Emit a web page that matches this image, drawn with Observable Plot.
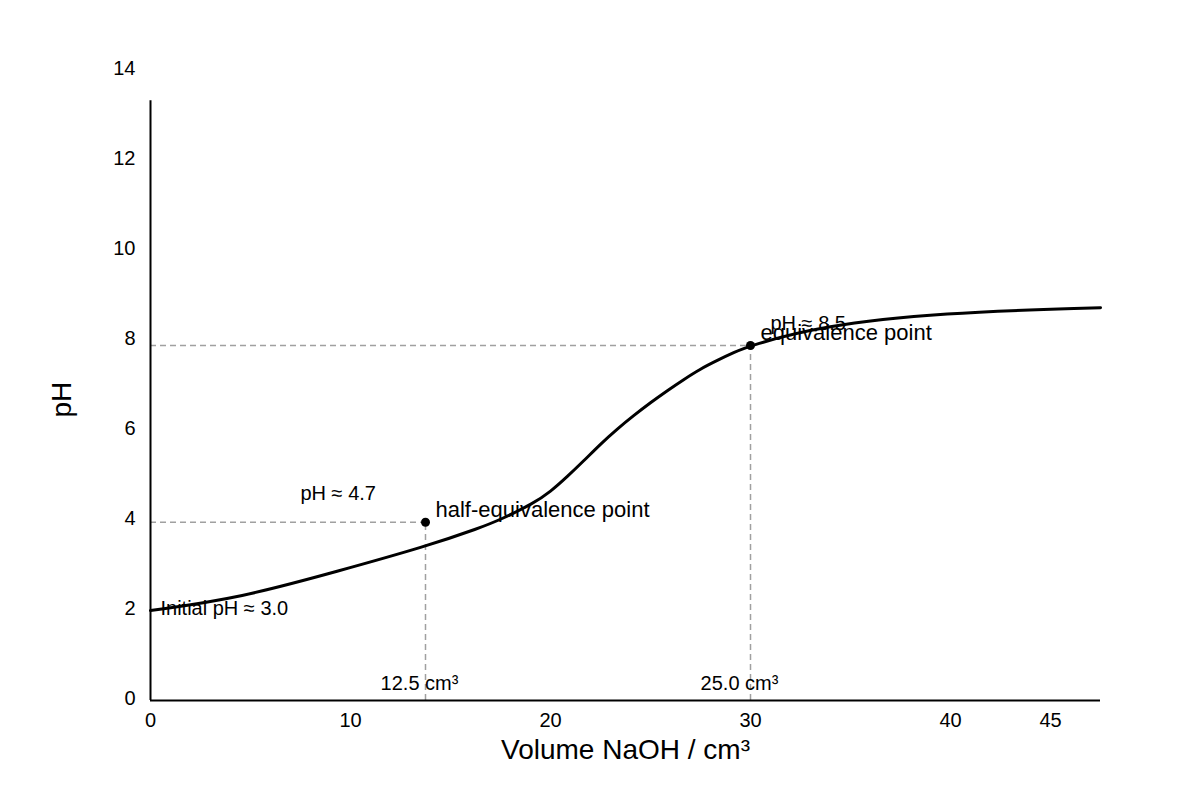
<!DOCTYPE html>
<html>
<head>
<meta charset="utf-8">
<script src="https://cdn.jsdelivr.net/npm/d3@7"></script>
<script src="https://cdn.jsdelivr.net/npm/@observablehq/plot@0.6"></script>
<style>
  html, body { margin: 0; padding: 0; background: #fff; }
  #chart { width: 1200px; height: 800px; }
</style>
</head>
<body>
<div id="chart"></div>
<script>
// Titration curve data (volume NaOH in cm³, pH)
const volume = [0, 4.5, 9.5, 13.75, 16.5, 17.5, 19.15, 20, 20.85, 21.65, 22.5, 23.35, 24.15, 25, 25.85, 26.65, 27.5, 28.35, 29.15, 30, 33.5, 39.5, 47.5];
const pH     = [2.0, 2.28, 2.89, 3.42, 3.84, 4.02, 4.38, 4.64, 4.98, 5.32, 5.70, 6.04, 6.33, 6.62, 6.89, 7.13, 7.37, 7.56, 7.73, 7.89, 8.32, 8.62, 8.73];

// Key points
const halfEqVolume = 13.75, halfEqPH = 3.96;
const eqVolume = 30, eqPH = 7.89;

// Axes
const xTicks = [0, 10, 20, 30, 40, 45];
const yTicks = [0, 2, 4, 6, 8, 10, 12, 14];
const xMax = 47.5;
const yAxisTop = 13.33;

// Labels
const xLabel = "Volume NaOH / cm³";
const yLabel = "pH";
const initialLabel = "Initial pH ≈ 3.0";
const halfEqLabel = "half-equivalence point";
const halfEqPHLabel = "pH ≈ 4.7";
const halfEqVolLabel = "12.5 cm³";
const eqLabel = "equivalence point";
const eqPHLabel = "pH ≈ 8.5";
const eqVolLabel = "25.0 cm³";

const curve = volume.map((v, i) => ({v, pH: pH[i]}));
const halfEq = [{v: halfEqVolume, pH: halfEqPH}];
const eq = [{v: eqVolume, pH: eqPH}];
const font = "Liberation Sans, Arial, sans-serif";
const dashColor = "#a0a0a0";

const chart = Plot.plot({
  width: 1200,
  height: 800,
  marginLeft: 150,
  marginRight: 100,
  marginTop: 70,
  marginBottom: 100,
  style: {fontFamily: font, background: "#fff", color: "#000"},
  x: {domain: [0, xMax]},
  y: {domain: [0, 14]},
  marks: [
    // dashed guide lines
    Plot.ruleY(halfEq, {x1: 0, x2: "v", y: "pH", stroke: dashColor, strokeWidth: 1.5, strokeDasharray: "6,4"}),
    Plot.ruleX(halfEq, {x: "v", y1: 0, y2: "pH", stroke: dashColor, strokeWidth: 1.5, strokeDasharray: "6,4"}),
    Plot.ruleY(eq, {x1: 0, x2: "v", y: "pH", stroke: dashColor, strokeWidth: 1.5, strokeDasharray: "6,4"}),
    Plot.ruleX(eq, {x: "v", y1: 0, y2: "pH", stroke: dashColor, strokeWidth: 1.5, strokeDasharray: "6,4"}),
    // axis lines
    Plot.ruleX([0], {y1: 0, y2: yAxisTop, stroke: "#000", strokeWidth: 2}),
    Plot.ruleY([0], {x1: 0, x2: xMax, stroke: "#000", strokeWidth: 2}),
    // curve
    Plot.line(curve, {x: "v", y: "pH", curve: "basis", stroke: "#000", strokeWidth: 3}),
    // points
    Plot.dot(halfEq, {x: "v", y: "pH", r: 4.5, fill: "#000"}),
    Plot.dot(eq, {x: "v", y: "pH", r: 4.5, fill: "#000"}),
    // annotations
    Plot.text([curve[0]], {x: "v", y: "pH", text: () => initialLabel, textAnchor: "start", dx: 10, dy: -2, fontSize: 20, fill: "#000"}),
    Plot.text(halfEq, {x: "v", y: "pH", text: () => halfEqLabel, textAnchor: "start", dx: 10, dy: -12, fontSize: 22, fill: "#000"}),
    Plot.text(halfEq, {x: "v", y: "pH", text: () => halfEqPHLabel, textAnchor: "start", dx: -125, dy: -29, fontSize: 20, fill: "#000"}),
    Plot.text(halfEq, {x: "v", y: 0, text: () => halfEqVolLabel, textAnchor: "middle", dx: -6, dy: -17, fontSize: 20, fill: "#000"}),
    Plot.text(eq, {x: "v", y: "pH", text: () => eqPHLabel, textAnchor: "start", dx: 20, dy: -22, fontSize: 20, fill: "#000"}),
    Plot.text(eq, {x: "v", y: "pH", text: () => eqLabel, textAnchor: "start", dx: 10, dy: -12, fontSize: 22, fill: "#000"}),
    Plot.text(eq, {x: "v", y: 0, text: () => eqVolLabel, textAnchor: "middle", dx: -11, dy: -17, fontSize: 20, fill: "#000"}),
    // axes
    Plot.axisX({ticks: xTicks, tickSize: 0, tickPadding: 12, fontSize: 20, label: null, color: "#000"}),
    Plot.axisY({ticks: yTicks, tickSize: 0, tickPadding: 15, dy: -2, fontSize: 20, label: null, color: "#000"}),
    Plot.text([xLabel], {frameAnchor: "bottom", text: d => d, dy: 58, fontSize: 28, fill: "#000"}),
    Plot.text([yLabel], {frameAnchor: "left", text: d => d, dx: -88, dy: 32, rotate: -90, fontSize: 28, fill: "#000"})
  ]
});
document.getElementById("chart").appendChild(chart);
</script>
</body>
</html>
